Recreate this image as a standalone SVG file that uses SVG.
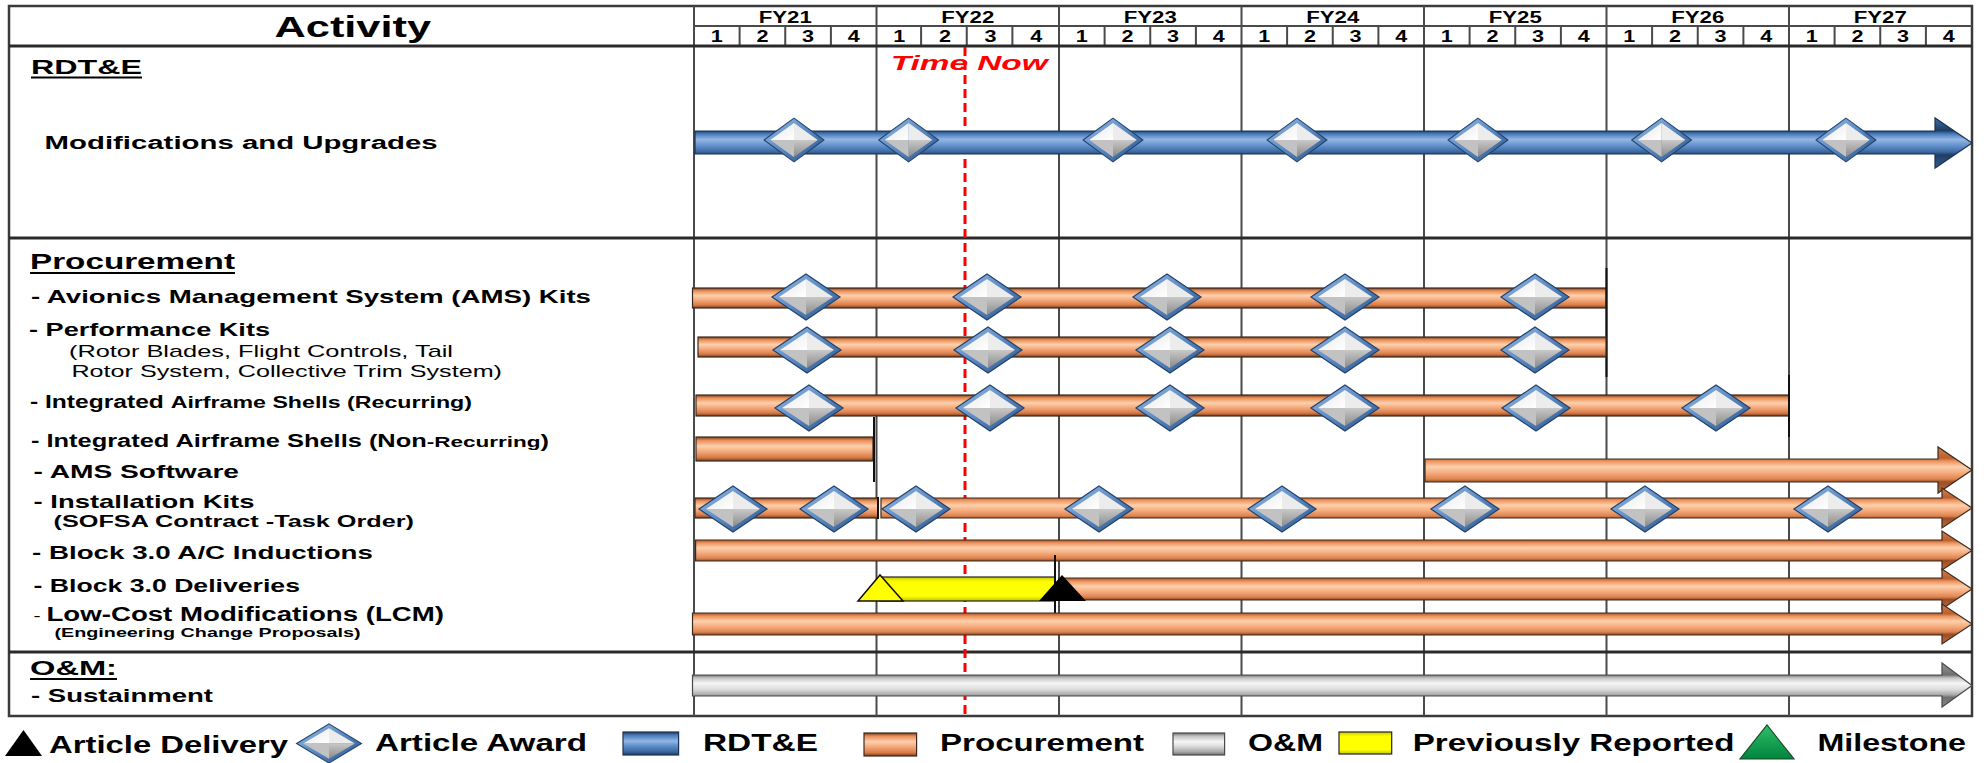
<svg xmlns="http://www.w3.org/2000/svg" xmlns:xlink="http://www.w3.org/1999/xlink" width="1984" height="763" viewBox="0 0 1984 763">
<style>
.t{font-family:"Liberation Sans",Arial,Helvetica,sans-serif;font-weight:bold;fill:#000}
.n{font-weight:normal}
.fy{font-size:16px;text-anchor:middle}
.q{font-size:16px;text-anchor:middle}
.lg{font-size:23px}
.row{font-size:19px}
.grid{stroke:#4a4a4a;stroke-width:2;fill:none}
.sep{stroke:#2a2a2a;stroke-width:3;fill:none}
.bo{stroke:#3b2b22;stroke-width:1.2}
.bb{stroke:#1c3350;stroke-width:1.2}
.bg{stroke:#4a4a4a;stroke-width:1.2}
.end{stroke:#111;stroke-width:2}
.ul{stroke:#000;stroke-width:2}
</style>
<defs>
<linearGradient id="og" x1="0" y1="0" x2="0" y2="1">
<stop offset="0" stop-color="#7a3f1d"/><stop offset="0.14" stop-color="#e98e58"/><stop offset="0.38" stop-color="#fcd0ac"/><stop offset="0.58" stop-color="#f6ad7f"/><stop offset="0.85" stop-color="#d97c48"/><stop offset="1" stop-color="#7a3f1d"/>
</linearGradient>
<linearGradient id="ogA" x1="0" y1="0" x2="0" y2="1">
<stop offset="0" stop-color="#d98048"/><stop offset="0.24" stop-color="#b8602f"/><stop offset="0.31" stop-color="#ee955f"/><stop offset="0.43" stop-color="#fcd0ac"/><stop offset="0.56" stop-color="#f6ad7f"/><stop offset="0.7" stop-color="#dd8350"/><stop offset="0.76" stop-color="#9a4f25"/><stop offset="1" stop-color="#c46a38"/>
</linearGradient>
<linearGradient id="bgA" x1="0" y1="0" x2="0" y2="1">
<stop offset="0" stop-color="#3f6fab"/><stop offset="0.25" stop-color="#1f3d63"/><stop offset="0.32" stop-color="#4a7cbc"/><stop offset="0.43" stop-color="#93b7e4"/><stop offset="0.56" stop-color="#5f8fcc"/><stop offset="0.68" stop-color="#3b679f"/><stop offset="0.74" stop-color="#1f3d63"/><stop offset="1" stop-color="#345f96"/>
</linearGradient>
<linearGradient id="bgL" x1="0" y1="0" x2="0" y2="1">
<stop offset="0" stop-color="#1f3d63"/><stop offset="0.15" stop-color="#4a7cbc"/><stop offset="0.4" stop-color="#93b7e4"/><stop offset="0.6" stop-color="#5f8fcc"/><stop offset="0.85" stop-color="#3b679f"/><stop offset="1" stop-color="#1f3d63"/>
</linearGradient>
<linearGradient id="ggA" x1="0" y1="0" x2="0" y2="1">
<stop offset="0" stop-color="#9a9a9a"/><stop offset="0.27" stop-color="#6e6e6e"/><stop offset="0.34" stop-color="#c4c4c4"/><stop offset="0.46" stop-color="#f6f6f6"/><stop offset="0.6" stop-color="#dcdcdc"/><stop offset="0.72" stop-color="#a9a9a9"/><stop offset="0.78" stop-color="#6e6e6e"/><stop offset="1" stop-color="#8a8a8a"/>
</linearGradient>
<linearGradient id="gg" x1="0" y1="0" x2="0" y2="1">
<stop offset="0" stop-color="#6e6e6e"/><stop offset="0.15" stop-color="#c4c4c4"/><stop offset="0.4" stop-color="#f6f6f6"/><stop offset="0.6" stop-color="#dcdcdc"/><stop offset="0.85" stop-color="#a9a9a9"/><stop offset="1" stop-color="#6e6e6e"/>
</linearGradient>
<linearGradient id="yg" x1="0" y1="0" x2="0" y2="1">
<stop offset="0" stop-color="#caca00"/><stop offset="0.2" stop-color="#ffff00"/><stop offset="0.8" stop-color="#ffff00"/><stop offset="1" stop-color="#c0c000"/>
</linearGradient>
<linearGradient id="grn" x1="0" y1="0" x2="0" y2="1">
<stop offset="0" stop-color="#2fbf6a"/><stop offset="1" stop-color="#00843d"/>
</linearGradient>
<linearGradient id="dbl" x1="0" y1="0" x2="1" y2="1">
<stop offset="0" stop-color="#9cbfe8"/><stop offset="0.5" stop-color="#5a88c2"/><stop offset="1" stop-color="#2b5286"/>
</linearGradient>
<linearGradient id="ftl" x1="0" y1="0" x2="1" y2="1">
<stop offset="0" stop-color="#e8e8e8"/><stop offset="1" stop-color="#ffffff"/>
</linearGradient>
<linearGradient id="fbr" x1="0" y1="0" x2="0" y2="1">
<stop offset="0" stop-color="#c8c8c8"/><stop offset="1" stop-color="#8a8a8a"/>
</linearGradient>
<g id="dm">
<polygon points="0,-23 34,0 0,23 -34,0" fill="url(#dbl)" stroke="#21426b" stroke-width="1.2"/>
<polygon points="-27,0 0,-18 0,0" fill="url(#ftl)"/>
<polygon points="0,-18 27,0 0,0" fill="#ececec"/>
<polygon points="27,0 0,18 0,0" fill="url(#fbr)"/>
<polygon points="0,18 -27,0 0,0" fill="#c2c2c2"/>
</g>
</defs>
<rect x="0" y="0" width="1984" height="763" fill="#fff"/>

<g id="grid">
<rect x="9" y="6" width="1963" height="710" fill="#fff" stroke="#3a3a3a" stroke-width="2.5"/>
<path class="grid" d="M694,6V716 M876.5,6V716 M1059,6V716 M1241.5,6V716 M1424,6V716 M1606.5,6V716 M1789,6V716"/>
<path class="grid" stroke-width="1.5" d="M694,26H1972"/>
<path class="grid" stroke-width="1.5" d="M739.6,26V46 M785.25,26V46 M830.9,26V46 M921.1,26V46 M966.75,26V46 M1012.4,26V46 M1104.6,26V46 M1150.25,26V46 M1195.9,26V46 M1287.1,26V46 M1332.75,26V46 M1378.4,26V46 M1469.6,26V46 M1515.25,26V46 M1560.9,26V46 M1652.1,26V46 M1697.75,26V46 M1743.4,26V46 M1834.6,26V46 M1880.25,26V46 M1925.9,26V46"/>
<path class="sep" stroke-width="2.5" d="M9,46H1972"/>
<path class="sep" d="M9,238H1972 M9,652H1972"/>
</g>

<g id="header">
<text class="t" x="274.5" y="37" font-size="29" textLength="156.5" lengthAdjust="spacingAndGlyphs">Activity</text>
<text class="t fy" x="785.25" y="23" textLength="53" lengthAdjust="spacingAndGlyphs">FY21</text>
<text class="t fy" x="967.75" y="23" textLength="53" lengthAdjust="spacingAndGlyphs">FY22</text>
<text class="t fy" x="1150.25" y="23" textLength="53" lengthAdjust="spacingAndGlyphs">FY23</text>
<text class="t fy" x="1332.75" y="23" textLength="53" lengthAdjust="spacingAndGlyphs">FY24</text>
<text class="t fy" x="1515.25" y="23" textLength="53" lengthAdjust="spacingAndGlyphs">FY25</text>
<text class="t fy" x="1697.75" y="23" textLength="53" lengthAdjust="spacingAndGlyphs">FY26</text>
<text class="t fy" x="1880.25" y="23" textLength="53" lengthAdjust="spacingAndGlyphs">FY27</text>
<g lengthAdjust="spacingAndGlyphs">
<text class="t q" x="716.8" y="42" textLength="12" lengthAdjust="spacingAndGlyphs">1</text><text class="t q" x="762.4" y="42" textLength="12" lengthAdjust="spacingAndGlyphs">2</text><text class="t q" x="808" y="42" textLength="12" lengthAdjust="spacingAndGlyphs">3</text><text class="t q" x="853.7" y="42" textLength="12" lengthAdjust="spacingAndGlyphs">4</text>
<text class="t q" x="899.3" y="42" textLength="12" lengthAdjust="spacingAndGlyphs">1</text><text class="t q" x="944.9" y="42" textLength="12" lengthAdjust="spacingAndGlyphs">2</text><text class="t q" x="990.5" y="42" textLength="12" lengthAdjust="spacingAndGlyphs">3</text><text class="t q" x="1036.2" y="42" textLength="12" lengthAdjust="spacingAndGlyphs">4</text>
<text class="t q" x="1081.8" y="42" textLength="12" lengthAdjust="spacingAndGlyphs">1</text><text class="t q" x="1127.4" y="42" textLength="12" lengthAdjust="spacingAndGlyphs">2</text><text class="t q" x="1173.1" y="42" textLength="12" lengthAdjust="spacingAndGlyphs">3</text><text class="t q" x="1218.7" y="42" textLength="12" lengthAdjust="spacingAndGlyphs">4</text>
<text class="t q" x="1264.3" y="42" textLength="12" lengthAdjust="spacingAndGlyphs">1</text><text class="t q" x="1309.9" y="42" textLength="12" lengthAdjust="spacingAndGlyphs">2</text><text class="t q" x="1355.6" y="42" textLength="12" lengthAdjust="spacingAndGlyphs">3</text><text class="t q" x="1401.2" y="42" textLength="12" lengthAdjust="spacingAndGlyphs">4</text>
<text class="t q" x="1446.8" y="42" textLength="12" lengthAdjust="spacingAndGlyphs">1</text><text class="t q" x="1492.4" y="42" textLength="12" lengthAdjust="spacingAndGlyphs">2</text><text class="t q" x="1538.1" y="42" textLength="12" lengthAdjust="spacingAndGlyphs">3</text><text class="t q" x="1583.7" y="42" textLength="12" lengthAdjust="spacingAndGlyphs">4</text>
<text class="t q" x="1629.3" y="42" textLength="12" lengthAdjust="spacingAndGlyphs">1</text><text class="t q" x="1675" y="42" textLength="12" lengthAdjust="spacingAndGlyphs">2</text><text class="t q" x="1720.6" y="42" textLength="12" lengthAdjust="spacingAndGlyphs">3</text><text class="t q" x="1766.2" y="42" textLength="12" lengthAdjust="spacingAndGlyphs">4</text>
<text class="t q" x="1811.8" y="42" textLength="12" lengthAdjust="spacingAndGlyphs">1</text><text class="t q" x="1857.5" y="42" textLength="12" lengthAdjust="spacingAndGlyphs">2</text><text class="t q" x="1903.1" y="42" textLength="12" lengthAdjust="spacingAndGlyphs">3</text><text class="t q" x="1948.7" y="42" textLength="12" lengthAdjust="spacingAndGlyphs">4</text>
</g>
</g>

<g id="connectors">
<text class="t" x="890.7" y="70" font-size="21" font-style="italic" style="fill:#ff0000" textLength="157" lengthAdjust="spacingAndGlyphs">Time Now</text>
<line x1="965" y1="47" x2="965" y2="716" stroke="#ff0000" stroke-width="3" stroke-dasharray="9 5"/>
</g>

<g id="rdte">
<text class="t" x="31" y="74" font-size="20" textLength="111" lengthAdjust="spacingAndGlyphs">RDT&amp;E</text>
<line class="ul" x1="31" y1="77.5" x2="142" y2="77.5"/>
</g>

<g id="mod-upgrades">
<text class="t" x="44.6" y="149" font-size="18" textLength="393" lengthAdjust="spacingAndGlyphs">Modifications and Upgrades</text>
<path class="bb" fill="url(#bgA)" d="M695,131H1935V118L1972,143L1935,168V154H695Z"/>
<use href="#dm" xlink:href="#dm" transform="translate(794,140) scale(0.88,0.95)"/>
<use href="#dm" xlink:href="#dm" transform="translate(908.6,140) scale(0.88,0.95)"/>
<use href="#dm" xlink:href="#dm" transform="translate(1113,140) scale(0.88,0.95)"/>
<use href="#dm" xlink:href="#dm" transform="translate(1297,140) scale(0.88,0.95)"/>
<use href="#dm" xlink:href="#dm" transform="translate(1478,140) scale(0.88,0.95)"/>
<use href="#dm" xlink:href="#dm" transform="translate(1661.6,140) scale(0.88,0.95)"/>
<use href="#dm" xlink:href="#dm" transform="translate(1846,140) scale(0.88,0.95)"/>
</g>

<g id="procurement">
<text class="t" x="30" y="269" font-size="22" textLength="205" lengthAdjust="spacingAndGlyphs">Procurement</text>
<line class="ul" x1="30" y1="273" x2="235" y2="273"/>
</g>

<g id="ams-kits">
<text class="t row" x="31" y="303" textLength="560" lengthAdjust="spacingAndGlyphs">- Avionics  Management System (AMS) Kits</text>
<rect class="bo" x="692.5" y="288" width="913.5" height="20" fill="url(#og)"/>
<line class="end" x1="1606.5" y1="268" x2="1606.5" y2="377"/>
<use href="#dm" xlink:href="#dm" transform="translate(806,297)"/>
<use href="#dm" xlink:href="#dm" transform="translate(987,297)"/>
<use href="#dm" xlink:href="#dm" transform="translate(1167,297)"/>
<use href="#dm" xlink:href="#dm" transform="translate(1345,297)"/>
<use href="#dm" xlink:href="#dm" transform="translate(1535,297)"/>
</g>

<g id="performance-kits">
<text class="t row" x="29" y="336" textLength="241" lengthAdjust="spacingAndGlyphs">- Performance Kits</text>
<text class="t n" x="69" y="357" font-size="17" textLength="384" lengthAdjust="spacingAndGlyphs">(Rotor Blades, Flight Controls, Tail</text>
<text class="t n" x="71.4" y="377" font-size="17" textLength="430.6" lengthAdjust="spacingAndGlyphs">Rotor System, Collective Trim System)</text>
<rect class="bo" x="698" y="337" width="908" height="20" fill="url(#og)"/>
<use href="#dm" xlink:href="#dm" transform="translate(807,350)"/>
<use href="#dm" xlink:href="#dm" transform="translate(988,350)"/>
<use href="#dm" xlink:href="#dm" transform="translate(1170,350)"/>
<use href="#dm" xlink:href="#dm" transform="translate(1345,350)"/>
<use href="#dm" xlink:href="#dm" transform="translate(1535,350)"/>
</g>

<g id="ias-recurring">
<text class="t" x="30" y="408" font-size="17.5" textLength="442" lengthAdjust="spacingAndGlyphs">- Integrated <tspan font-size="16.5">Airframe Shells (Recurring)</tspan></text>
<rect class="bo" x="696" y="395" width="1093" height="21" fill="url(#og)"/>
<line class="end" x1="1789" y1="375" x2="1789" y2="437"/>
<use href="#dm" xlink:href="#dm" transform="translate(809,408)"/>
<use href="#dm" xlink:href="#dm" transform="translate(990,408)"/>
<use href="#dm" xlink:href="#dm" transform="translate(1170,408)"/>
<use href="#dm" xlink:href="#dm" transform="translate(1345,408)"/>
<use href="#dm" xlink:href="#dm" transform="translate(1536,408)"/>
<use href="#dm" xlink:href="#dm" transform="translate(1716,408)"/>
</g>

<g id="ias-nonrecurring">
<text class="t" x="31" y="447" font-size="17.5" textLength="518" lengthAdjust="spacingAndGlyphs">- Integrated Airframe Shells (Non<tspan font-size="15.5">-Recurring</tspan>)</text>
<rect class="bo" x="696" y="437" width="177" height="24" fill="url(#og)"/>
<line class="end" x1="874" y1="417" x2="874" y2="482"/>
</g>

<g id="ams-software">
<text class="t row" x="33.5" y="478" textLength="205.5" lengthAdjust="spacingAndGlyphs">- AMS Software</text>
<path class="bo" fill="url(#ogA)" d="M1425,459H1938V447L1972,470L1938,493V482H1425Z"/>
</g>

<g id="installation-kits">
<text class="t row" x="33.5" y="508" textLength="221" lengthAdjust="spacingAndGlyphs">- Installation Kits</text>
<text class="t" x="53.6" y="527" font-size="16" textLength="360.4" lengthAdjust="spacingAndGlyphs">(SOFSA  Contract -Task Order)</text>
<rect class="bo" x="695" y="498" width="182.8" height="20" fill="url(#og)"/>
<line class="end" x1="878" y1="497" x2="878" y2="519"/>
<path class="bo" fill="url(#ogA)" d="M881,498H1942V488L1972,508L1942,528V518H881Z"/>
<use href="#dm" xlink:href="#dm" transform="translate(733,509)"/>
<use href="#dm" xlink:href="#dm" transform="translate(834,509)"/>
<use href="#dm" xlink:href="#dm" transform="translate(916,509)"/>
<use href="#dm" xlink:href="#dm" transform="translate(1099,509)"/>
<use href="#dm" xlink:href="#dm" transform="translate(1282,509)"/>
<use href="#dm" xlink:href="#dm" transform="translate(1465,509)"/>
<use href="#dm" xlink:href="#dm" transform="translate(1645,509)"/>
<use href="#dm" xlink:href="#dm" transform="translate(1828,509)"/>
</g>

<g id="inductions">
<text class="t row" x="32" y="559" textLength="341" lengthAdjust="spacingAndGlyphs">- Block 3.0 A/C  Inductions</text>
<path class="bo" fill="url(#ogA)" d="M695.6,540H1942V531L1972,550.5L1942,570V561H695.6Z"/>
</g>

<g id="deliveries">
<text class="t row" x="33.5" y="592" textLength="266.5" lengthAdjust="spacingAndGlyphs">- Block 3.0 Deliveries</text>
<path class="bo" fill="url(#ogA)" d="M1059,578H1942V569L1972,589L1942,609V600H1059Z"/>
<rect x="880" y="577" width="175" height="24" fill="url(#yg)" stroke="#222" stroke-width="1.2"/>
<polygon points="858,601 903,601 880,575" fill="#ffff00" stroke="#111" stroke-width="1.5"/>
<line class="end" x1="1055" y1="555" x2="1055" y2="624"/>
<polygon points="1039,601 1086,601 1062,575" fill="#000"/>
</g>

<g id="lcm">
<text class="t" x="33.5" y="621" font-size="19.5" textLength="410.5" lengthAdjust="spacingAndGlyphs"><tspan font-weight="normal" font-size="15">- </tspan>Low-Cost  Modifications (LCM)</text>
<text class="t" x="54.5" y="637" font-size="12.5" textLength="306" lengthAdjust="spacingAndGlyphs">(Engineering Change Proposals)</text>
<path class="bo" fill="url(#ogA)" d="M692.5,613H1942V604L1972,624L1942,644V635H692.5Z"/>
</g>

<g id="om">
<text class="t" x="30" y="675" font-size="21" textLength="87" lengthAdjust="spacingAndGlyphs">O&amp;M:</text>
<line class="ul" x1="30" y1="679" x2="117" y2="679"/>
</g>

<g id="sustainment">
<text class="t row" x="31" y="702" textLength="182" lengthAdjust="spacingAndGlyphs">- Sustainment</text>
<path class="bg" fill="url(#ggA)" d="M692.5,675H1942V663L1972,685.5L1942,707V696H692.5Z"/>
</g>

<g id="legend">
<polygon points="5,756 42,756 23.5,730" fill="#000"/>
<text class="t lg" x="49" y="753" textLength="239" lengthAdjust="spacingAndGlyphs">Article Delivery</text>
<use href="#dm" xlink:href="#dm" transform="translate(329,743.5) scale(0.955,0.85)"/>
<text class="t lg" x="375" y="751" textLength="212" lengthAdjust="spacingAndGlyphs">Article Award</text>
<rect class="bb" x="623" y="732" width="55.6" height="23" fill="url(#bgL)"/>
<text class="t lg" x="703" y="751" textLength="115" lengthAdjust="spacingAndGlyphs">RDT&amp;E</text>
<rect class="bo" x="864" y="733" width="52.6" height="23" fill="url(#og)"/>
<text class="t lg" x="940" y="751" textLength="204" lengthAdjust="spacingAndGlyphs">Procurement</text>
<rect class="bg" x="1173" y="733" width="51.6" height="22" fill="url(#gg)"/>
<text class="t lg" x="1248" y="751" textLength="75" lengthAdjust="spacingAndGlyphs">O&amp;M</text>
<rect x="1339" y="732" width="52.7" height="22" fill="url(#yg)" stroke="#222" stroke-width="1.2"/>
<text class="t lg" x="1412.7" y="751" textLength="321.8" lengthAdjust="spacingAndGlyphs">Previously Reported</text>
<polygon points="1740,759 1794,759 1767,725" fill="url(#grn)" stroke="#1d4a2a" stroke-width="1.2"/>
<text class="t lg" x="1817.5" y="751" textLength="148.5" lengthAdjust="spacingAndGlyphs">Milestone</text>
</g>
</svg>
